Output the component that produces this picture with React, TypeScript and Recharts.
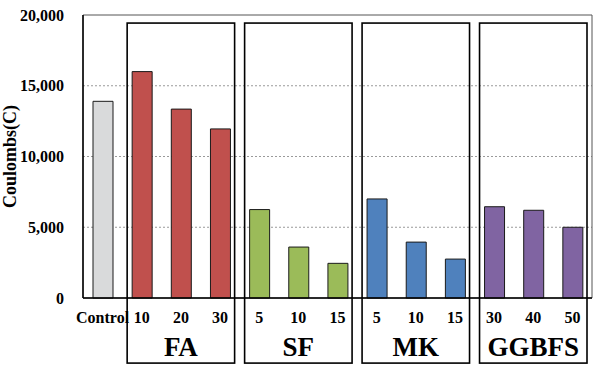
import React from 'react';
import {
  BarChart,
  Bar,
  Cell,
  XAxis,
  YAxis,
  CartesianGrid,
  ReferenceArea,
  Label,
} from 'recharts';

// 13 categories, keys are unique, labels shown under the axis
const categories = [
  'Control',
  'FA-10', 'FA-20', 'FA-30',
  'SF-5', 'SF-10', 'SF-15',
  'MK-5', 'MK-10', 'MK-15',
  'GGBFS-30', 'GGBFS-40', 'GGBFS-50',
];
const tickLabels = ['Control', '10', '20', '30', '5', '10', '15', '5', '10', '15', '30', '40', '50'];
const coulombs = [13900, 16000, 13350, 11950, 6250, 3600, 2450, 7000, 3950, 2750, 6450, 6200, 5000];
const barColors = [
  '#d9dadb',
  '#c0504d', '#c0504d', '#c0504d',
  '#9bbb59', '#9bbb59', '#9bbb59',
  '#4f81bd', '#4f81bd', '#4f81bd',
  '#8064a2', '#8064a2', '#8064a2',
];

const groupNames = ['FA', 'SF', 'MK', 'GGBFS'];
const groupFirst = ['FA-10', 'SF-5', 'MK-5', 'GGBFS-30'];
const groupLast = ['FA-30', 'SF-15', 'MK-15', 'GGBFS-50'];
// boxes reach above and below the plot area
const boxTop = 19430;
const boxBottom = -4600;

const yTicks = [0, 5000, 10000, 15000, 20000];

const FONT = '"Liberation Serif", "DejaVu Serif", serif';

const chartData = categories.map((key, i) => ({
  key,
  label: tickLabels[i],
  value: coulombs[i],
  color: barColors[i],
}));

const tickStyle = { fontFamily: FONT, fontWeight: 'bold', fontSize: 16, fill: '#000', style: { fontFamily: FONT } };

function GroupBox(name: string) {
  return (props: any) => {
    const { x, y, width, height } = props;
    return (
      <g>
        <rect
          x={x + 5}
          y={y}
          width={width - 10}
          height={height}
          fill="none"
          stroke="#000"
          strokeWidth={1.6}
        />
        <text
          x={x + width / 2}
          y={y + height - 7}
          textAnchor="middle"
          style={{ fontFamily: FONT, fontWeight: 'bold', fontSize: 27 }}
          fill="#000"
        >
          {name}
        </text>
      </g>
    );
  };
}

export default function App() {
  return (
    <div style={{ width: 604, height: 377, background: '#fff', fontFamily: FONT }}>
      <style>{'body{margin:0} svg text{font-family:"Liberation Serif","DejaVu Serif",serif;}'}</style>
      <BarChart
        width={604}
        height={377}
        data={chartData}
        margin={{ top: 15, right: 12, left: 0, bottom: 49 }}
        barCategoryGap={0}
      >
        <CartesianGrid
          vertical={false}
          horizontalValues={[5000, 10000, 15000]}
          stroke="#9a9a9a"
          strokeDasharray="2 2"
          yAxisId="left"
          xAxisId="bottom"
        />
        <ReferenceArea
          xAxisId="bottom"
          yAxisId="left"
          y1={0}
          y2={20000}
          ifOverflow="visible"
          fill="none"
          stroke="#555"
          strokeWidth={1}
        />
        <XAxis
          xAxisId="bottom"
          dataKey="key"
          height={30}
          axisLine={{ stroke: '#000', strokeWidth: 1.5 }}
          tickLine={false}
          tickSize={0}
          tickMargin={14}
          interval={0}
          tickFormatter={(v: string) => tickLabels[categories.indexOf(v)]}
          tick={tickStyle}
        />
        <YAxis
          yAxisId="left"
          width={83}
          domain={[0, 20000]}
          ticks={yTicks}
          axisLine={{ stroke: '#000', strokeWidth: 1.5 }}
          tickLine={false}
          tickSize={0}
          tickMargin={19}
          tickFormatter={(v: number) => v.toLocaleString('en-US')}
          tick={tickStyle}
        >
          <Label
            content={(props: any) => {
              const vb = props.viewBox || {};
              const cx = (vb.x || 0) + 10;
              const cy = (vb.y || 0) + (vb.height || 0) / 2;
              return (
                <text
                  transform={`translate(${cx},${cy}) rotate(-90)`}
                  textAnchor="middle"
                  dominantBaseline="central"
                  style={{ fontFamily: FONT, fontWeight: 'bold', fontSize: 18 }}
                  fill="#000"
                >
                  Coulombs(C)
                </text>
              );
            }}
          />
        </YAxis>
        <Bar
          dataKey="value"
          xAxisId="bottom"
          yAxisId="left"
          barSize={20}
          stroke="#1a1a1a"
          strokeWidth={1}
          isAnimationActive={false}
        >
          {chartData.map((d, i) => (
            <Cell key={`cell-${i}`} fill={d.color} />
          ))}
        </Bar>
        {groupNames.map((name, i) => (
          <ReferenceArea
            key={name}
            xAxisId="bottom"
            yAxisId="left"
            x1={groupFirst[i]}
            x2={groupLast[i]}
            y1={boxBottom}
            y2={boxTop}
            ifOverflow="visible"
            shape={GroupBox(name)}
          />
        ))}
      </BarChart>
    </div>
  );
}
